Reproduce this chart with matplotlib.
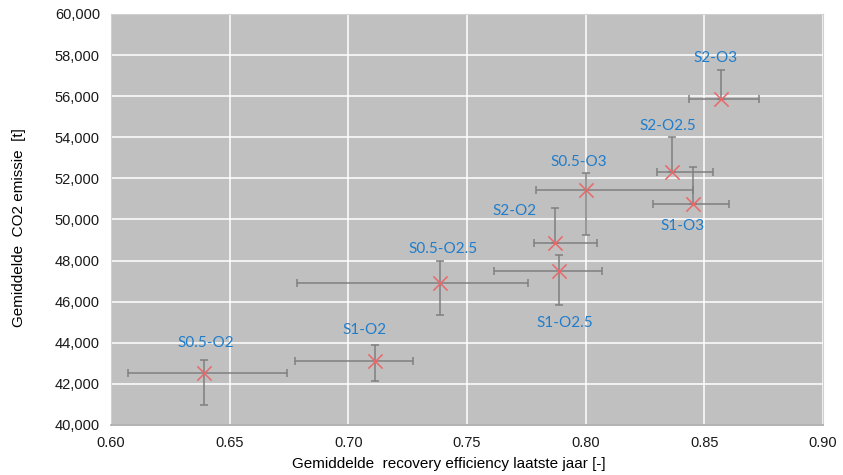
import numpy as np
import matplotlib
matplotlib.use("Agg")
import matplotlib.pyplot as plt
from matplotlib.ticker import FuncFormatter, MultipleLocator

# Scenario data
labels = ["S0.5-O2", "S1-O2", "S0.5-O2.5", "S2-O2", "S1-O2.5",
          "S0.5-O3", "S2-O2.5", "S1-O3", "S2-O3"]
efficiency = [0.639, 0.7114, 0.7386, 0.7872, 0.7889, 0.800, 0.8365, 0.8453, 0.8569]
co2 = [42520, 43100, 46900, 48850, 47500, 51440, 52300, 50770, 55850]

# error bar extents (lower / upper bound)
eff_low = [0.607, 0.6775, 0.6782, 0.7782, 0.7615, 0.7791, 0.8299, 0.8285, 0.8434]
eff_high = [0.674, 0.7274, 0.7758, 0.8046, 0.8067, 0.8451, 0.8535, 0.8603, 0.8729]
co2_low = [40970, 42140, 45350, 48850, 45830, 49260, 52300, 50770, 55850]
co2_high = [43150, 43890, 48000, 50580, 48270, 52280, 54000, 52570, 57280]

# label offsets in pixels (dx, dy) relative to the marker
label_offsets = [(2, 30), (-11, 31), (3, 34), (-41, 32), (5, -52),
                 (-7, 28), (-5, 46), (-11, -22), (-5, 41)]

plt.rcParams['font.family'] = ['Liberation Sans', 'DejaVu Sans']

fig = plt.figure(figsize=(8.43, 4.75), dpi=100)
ax = fig.add_axes([111 / 843, 1 - 425 / 475, 712 / 843, 411 / 475])
ax.set_facecolor('#c0c0c0')

x = np.array(efficiency)
y = np.array(co2)
xerr = [x - np.array(eff_low), np.array(eff_high) - x]
yerr = [y - np.array(co2_low), np.array(co2_high) - y]

ax.errorbar(x, y, xerr=xerr, yerr=yerr, fmt='none', ecolor='#7f7f7f',
            elinewidth=1.1, capsize=2.8, capthick=1.1, zorder=3)
ax.scatter(x, y, marker='x', s=105, color='#e8686a', linewidths=1.1, zorder=4)

for lab, xi, yi, (dx, dy) in zip(labels, x, y, label_offsets):
    ax.annotate(lab, (xi, yi), xytext=(dx * 0.72, dy * 0.72), textcoords='offset points',
                ha='center', va='center', fontsize=11, color='#1f7dcc',
                family=['Lato', 'DejaVu Sans'], zorder=5)

ax.set_xlim(0.60, 0.90)
ax.set_ylim(40000, 60000)
ax.xaxis.set_major_locator(MultipleLocator(0.05))
ax.yaxis.set_major_locator(MultipleLocator(2000))
ax.xaxis.set_major_formatter(FuncFormatter(lambda v, p: f"{v:.2f}"))
ax.yaxis.set_major_formatter(FuncFormatter(lambda v, p: f"{v:,.0f}"))
ax.grid(True, color='white', linewidth=1.1)
ax.set_axisbelow(True)
ax.tick_params(length=0, labelsize=10.5, colors='#1a1a1a', pad=8)

for side in ['top', 'right', 'left']:
    ax.spines[side].set_color('#d0d0d0')
ax.spines['bottom'].set_color('#a6a6a6')
ax.spines['bottom'].set_linewidth(1.2)

ax.set_xlabel("Gemiddelde  recovery efficiency laatste jaar [-]", fontsize=11, labelpad=1)
ax.xaxis.set_label_coords(0.474, -0.079)
ax.set_ylabel("Gemiddelde  CO2 emissie  [t]", fontsize=11)
ax.yaxis.set_label_coords(-0.119, 0.48)

fig.savefig("out.png", dpi=100, facecolor='white')
